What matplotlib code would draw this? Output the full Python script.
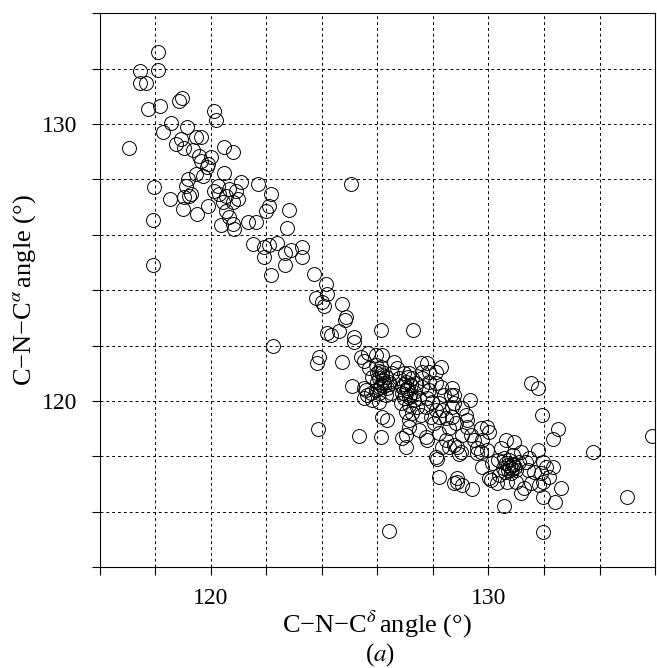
import matplotlib
matplotlib.use("Agg")
import matplotlib.pyplot as plt
from matplotlib.ticker import MultipleLocator, FuncFormatter

plt.rcParams['font.family'] = ['Liberation Serif', 'DejaVu Serif']
plt.rcParams['mathtext.fontset'] = 'stix'

# C-N-Cdelta (x) and C-N-Calpha (y) angles, degrees
upper_d = [118.11, 117.44, 118.11, 117.44, 117.66, 118.96, 118.86, 118.18, 117.75, 120.12,
           120.20, 118.56, 119.14, 118.26, 119.46, 119.64, 118.92, 118.74, 117.06, 119.04,
           119.34, 120.48, 120.81, 119.58, 120.02, 119.64, 119.88, 119.46, 119.72, 120.48,
           119.19, 121.08, 121.68, 117.96, 119.10, 119.04, 119.28, 118.52, 120.12, 120.30,
           120.54, 120.90, 120.96, 122.16, 122.10, 121.98, 122.82, 118.98, 119.50, 119.91,
           120.42, 120.54, 120.66, 120.36, 120.78, 120.84, 121.32, 121.62, 122.74, 117.92,
           117.90, 121.50, 121.92, 122.10, 122.38, 121.92, 122.68, 122.88, 122.68, 123.30,
           123.30, 122.16, 123.72, 124.14, 124.20, 123.78, 124.02, 124.74, 125.04, 120.24,
           120.66, 120.78, 119.87, 119.22]
upper_a = [132.62, 131.92, 131.95, 131.50, 131.50, 130.96, 130.84, 130.66, 130.54, 130.48,
           130.15, 130.03, 129.91, 129.73, 129.55, 129.55, 129.48, 129.28, 129.12, 129.12,
           129.08, 129.16, 129.01, 128.86, 128.80, 128.65, 128.56, 128.20, 128.11, 128.24,
           128.02, 127.90, 127.84, 127.72, 127.78, 127.36, 127.48, 127.30, 127.60, 127.46,
           127.42, 127.58, 127.28, 127.48, 127.06, 126.86, 126.91, 126.94, 126.76, 127.06,
           127.18, 126.88, 126.66, 126.34, 126.40, 126.22, 126.46, 126.48, 126.24, 126.54,
           124.92, 125.68, 125.56, 125.62, 125.70, 125.20, 125.36, 125.44, 124.92, 125.56,
           125.20, 124.54, 124.60, 124.24, 123.88, 123.71, 123.57, 123.49, 127.82, 127.78,
           127.66, 127.18, 128.44, 127.42]

middle_d = [124.08, 124.86, 124.84, 124.20, 124.32, 124.62, 125.14, 122.22, 123.88, 123.82,
            124.72, 125.40, 125.52, 125.10, 125.52, 125.64, 123.87, 125.34, 126.12, 126.43,
            126.13, 127.28, 125.66, 125.16]
middle_a = [123.42, 123.04, 122.92, 122.44, 122.38, 122.52, 122.32, 121.99, 121.60, 121.38,
            121.42, 121.60, 121.44, 120.55, 120.46, 120.22, 118.99, 118.75, 118.71, 115.29,
            122.56, 122.56, 121.72, 122.14]

dense_d = [125.94, 126.18, 125.70, 125.94, 126.12, 126.18, 126.00, 125.82, 126.06, 126.30,
           126.24, 126.42, 126.12, 126.36, 125.94, 125.76, 126.06, 126.30, 125.58, 125.52,
           125.82, 126.06, 126.60, 126.72, 126.54, 126.78, 126.96, 127.14, 127.26, 127.02,
           127.20, 127.38, 126.90, 127.08, 127.32, 127.14, 126.96, 127.32, 127.50, 126.84,
           127.14, 127.44, 127.02, 127.26, 127.56, 127.56, 127.80, 127.86, 128.10, 128.28,
           127.62, 127.62, 127.86, 128.10, 128.28, 127.62, 127.86, 127.80, 127.98, 128.22,
           127.74, 128.10, 128.34, 127.92, 128.22, 128.46, 128.04, 128.70, 128.64, 128.40,
           128.70, 126.18, 126.36, 127.14, 127.14, 127.02, 126.90, 127.50, 127.74, 127.80,
           128.22, 128.46, 128.58, 128.88, 128.34, 128.10, 127.02, 128.16, 128.22, 128.76,
           128.88, 129.42, 128.94, 129.32,
           126.05, 126.15, 125.98, 126.25, 126.08, 126.20, 126.95, 127.05, 126.88, 127.10,
           127.00, 127.18, 126.40, 126.50]
dense_a = [121.66, 121.66, 121.18, 121.30, 121.24, 121.06, 121.00, 120.88, 120.82, 120.88,
           120.64, 120.70, 120.58, 120.46, 120.40, 120.28, 120.28, 120.22, 120.40, 120.10,
           120.04, 119.97, 121.42, 121.18, 121.00, 120.82, 121.00, 121.00, 120.82, 120.70,
           120.58, 120.64, 120.52, 120.40, 120.34, 120.16, 120.10, 120.04, 120.10, 119.92,
           119.86, 119.79, 119.61, 119.56, 119.50, 121.36, 121.36, 121.06, 121.06, 121.24,
           121.06, 120.82, 120.70, 120.64, 120.52, 120.52, 120.40, 120.10, 119.97, 119.92,
           119.79, 119.68, 119.68, 119.43, 119.43, 119.38, 119.20, 119.79, 120.22, 120.22,
           120.46, 119.43, 119.32, 119.32, 119.07, 118.78, 118.66, 118.96, 118.71, 118.60,
           118.84, 118.60, 118.35, 118.35, 118.35, 117.99, 118.35, 117.90, 117.25, 117.04,
           117.09, 116.82, 118.09, 120.04,
           121.10, 120.95, 120.70, 120.55, 120.50, 120.75, 120.62, 120.48, 120.30, 120.85,
           120.25, 120.20, 120.60, 120.30]

lower_d = [128.76, 128.76, 129.06, 129.19, 129.24, 128.70, 128.82, 128.58, 129.06, 129.24,
           129.37, 129.48, 129.73, 129.96, 130.03, 129.78, 129.60, 128.76, 129.01, 129.73,
           129.96, 130.45, 130.63, 130.93, 129.78, 130.14, 130.57, 130.75, 130.87, 130.99,
           130.69, 130.51, 130.81, 130.39, 131.11, 130.63, 130.87, 130.33, 131.47, 131.77,
           131.95, 132.07, 132.31, 131.41, 131.65, 131.89, 132.19, 131.95, 128.88, 129.06,
           130.03, 130.32, 130.68, 130.99, 131.53, 131.83, 131.53, 131.77, 131.92, 132.52,
           132.33, 133.75, 135.90, 135.00, 131.95, 130.57, 132.62, 132.40, 131.97, 131.35,
           131.29, 131.17, 130.09, 129.60, 131.18,
           130.78, 130.90, 130.70, 130.85, 130.95, 130.60]
lower_a = [120.22, 119.92, 119.74, 119.50, 119.32, 119.43, 119.20, 119.02, 118.78, 119.07,
           118.78, 118.60, 119.02, 119.07, 118.89, 118.60, 118.30, 118.42, 118.17, 118.17,
           118.23, 118.30, 118.60, 118.53, 117.63, 117.76, 117.94, 117.87, 117.69, 117.51,
           117.51, 117.58, 117.39, 117.33, 117.81, 117.76, 118.05, 117.87, 117.94, 118.23,
           117.81, 117.63, 117.63, 117.51, 117.45, 117.39, 117.27, 117.09, 117.22, 116.97,
           117.22, 117.04, 117.09, 117.09, 117.04, 116.97, 120.64, 120.46, 119.50, 118.98,
           118.63, 118.17, 118.74, 116.52, 115.26, 116.22, 116.86, 116.37, 116.52, 117.81,
           116.86, 116.68, 117.15, 118.12, 118.17,
           117.60, 117.72, 117.68, 117.55, 117.62, 117.45]

delta = upper_d + middle_d + dense_d + lower_d
alpha = upper_a + middle_a + dense_a + lower_a

fig = plt.figure(figsize=(6.57, 6.68), dpi=100)
ax = fig.add_axes([0.152, 0.151, 0.845, 0.829])

ax.plot(delta, alpha, 'o', mfc='none', mec='black', ms=10, mew=0.7, zorder=3)

ax.set_xlim(116, 136)
ax.set_ylim(114, 134)
ax.xaxis.set_major_locator(MultipleLocator(2))
ax.yaxis.set_major_locator(MultipleLocator(2))
lab = FuncFormatter(lambda v, p: '%d' % round(v) if round(v) % 10 == 0 else '')
ax.xaxis.set_major_formatter(lab)
ax.yaxis.set_major_formatter(lab)
ax.tick_params(direction='out', length=6, width=0.8, labelsize=17)
ax.tick_params(axis='x', pad=9)
ax.tick_params(axis='y', pad=10)
ax.grid(True, color='black', linestyle=(0, (3, 3)), linewidth=0.7)
for s in ax.spines.values():
    s.set_linewidth(0.8)

ax.set_xlabel('C\u2212N\u2212C$^{\\delta}\\,$angle (°)', fontsize=19, labelpad=0)
ax.set_ylabel('C\u2212N\u2212C$^{\\alpha}\\,$angle (°)', fontsize=19, labelpad=3)
fig.text(0.578, 0.02, '($a$)', fontsize=18, ha='center', va='center')

fig.savefig('out.png', dpi=100)
